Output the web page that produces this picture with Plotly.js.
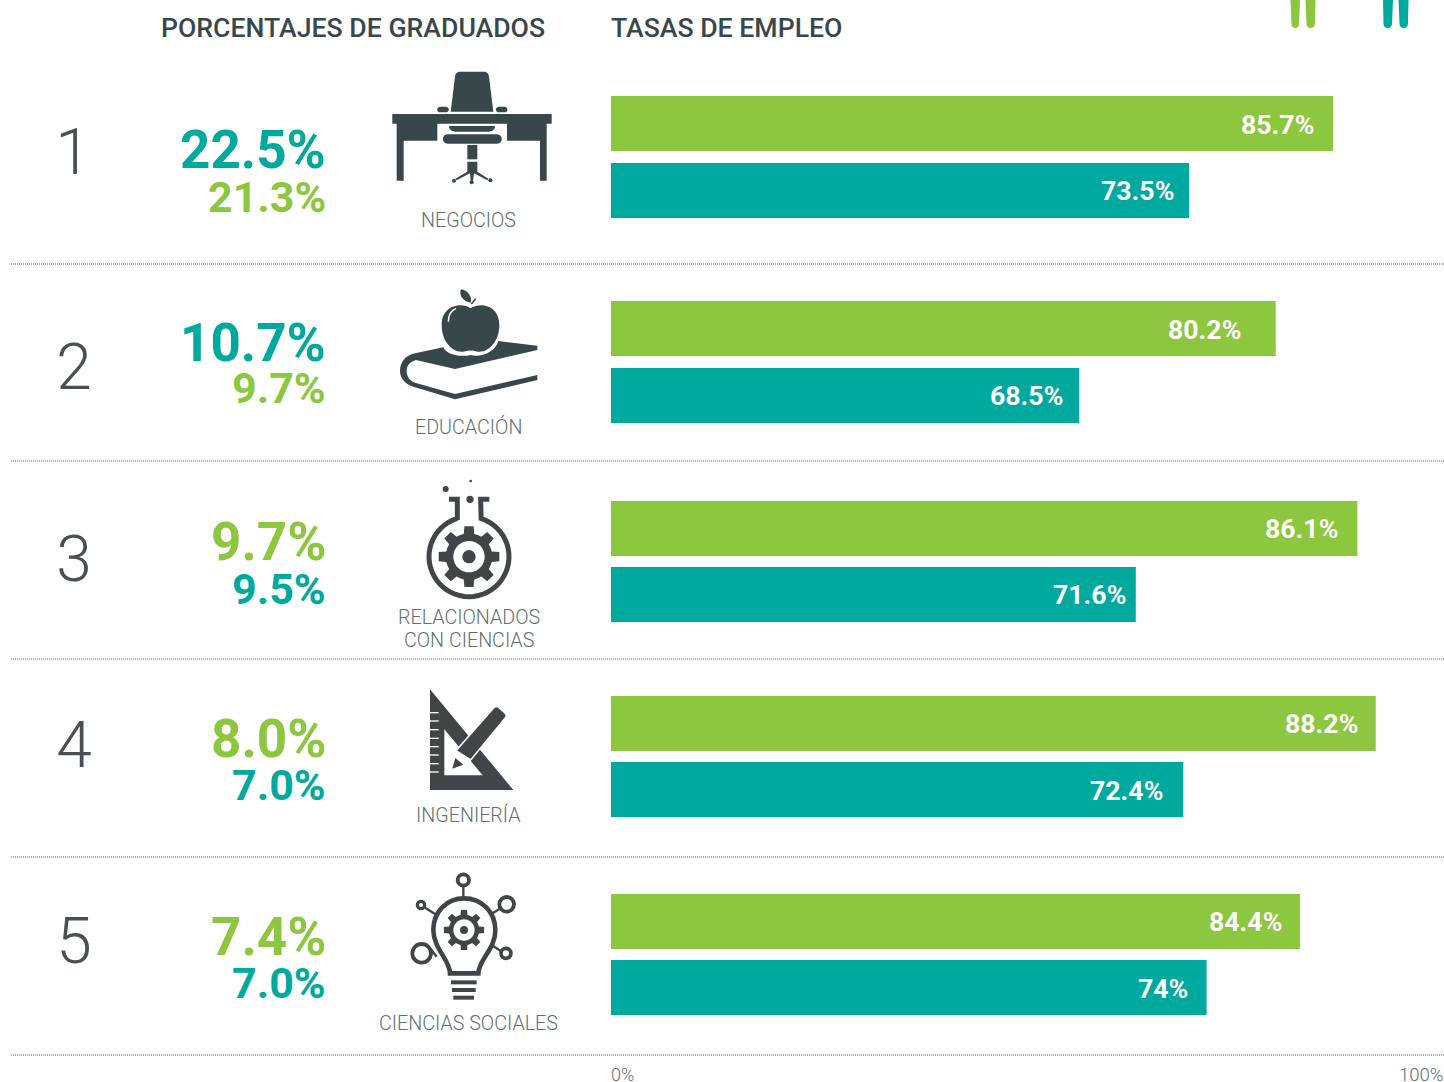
<!DOCTYPE html>
<html><head><meta charset="utf-8">
<script src="https://cdn.plot.ly/plotly-3.0.1.min.js"></script>
<style>html,body{margin:0;padding:0;background:#fff}#c{width:1444px;height:1082px}</style>
</head><body><div id="c"></div>
<script>
// ---- data ----
const ranks = ['1','2','3','4','5'];
const categories = ['NEGOCIOS','EDUCACIÓN','RELACIONADOS<br>CON CIENCIAS','INGENIERÍA','CIENCIAS SOCIALES'];
const gradTop = ['22.5%','10.7%','9.7%','8.0%','7.4%'];
const gradBottom = ['21.3%','9.7%','9.5%','7.0%','7.0%'];
const gradTopColor = ['teal','teal','green','green','green'];
const greenBars = [86.7,79.8,89.6,91.8,82.7];
const tealBars = [69.4,56.2,63.0,68.7,71.5];
const greenLabels = ['85.7%','80.2%','86.1%','88.2%','84.4%'];
const tealLabels = ['73.5%','68.5%','71.6%','72.4%','74%'];

// ---- layout helpers ----
const GREEN='#8dc63f', TEAL='#00a99d', DARK='#37474a', GREY='#424548', SOFT='#5f7074';
const colorOf={green:GREEN,teal:TEAL};
const FONT='Roboto';
const greenY=[123.5,328.5,528.5,723.5,921.5], tealY=[190.5,395.5,594.5,789.5,987.5];
const greenLabelY=[124.5,329.5,528.5,723.5,921.5], tealLabelY=[190.5,395.5,594.5,790.5,988.5];
const greenGap=[18,34,18,17,17], tealGap=[14,15,9,19,18];
const rankX=[73,74,74,74,74], rankY=[157.5,372.5,564.5,750.5,947];
const gradTopY=[149.5,342.5,541.5,738.5,936.5], gradBotY=[196.5,387.5,588.5,784.5,982.5];
const catY=[220,427,[617,640],815,1023];
const ruleY=[264,461,659,857,1055];

const shapes=[], annotations=[];
const ax={xref:'x2',yref:'y2'};
function z(ox,oy,d){ // path given in 3x-crop coordinates
  let i=0;
  return d.replace(/-?\d+(\.\d+)?/g,m=>{const v=parseFloat(m)/3+((i++%2)?oy:ox);return v.toFixed(2);});
}
function fill(d,c,extra){shapes.push(Object.assign({type:'path',path:d,fillcolor:c,line:{width:0},layer:'above'},ax,extra||{}));}
function stroke(d,c,w){shapes.push(Object.assign({type:'path',path:d,fillcolor:'rgba(0,0,0,0)',line:{color:c,width:w},layer:'above'},ax));}
function circle(cx,cy,r,c,lineC,lw){shapes.push(Object.assign({type:'circle',x0:cx-r,x1:cx+r,y0:cy-r,y1:cy+r,fillcolor:c,line:{color:lineC||c,width:lw||0},layer:'above'},ax));}
function zc(ox,oy,x,y,r,c,lc,lw){circle(ox+x/3,oy+y/3,r/3,c,lc,lw);}
function ringPts(cx,cy,r,n){let s='';for(let k=0;k<n;k++){const a=2*Math.PI*k/n;s+=(k?'L':'M')+(cx+r*Math.cos(a)).toFixed(2)+','+(cy+r*Math.sin(a)).toFixed(2)+' ';}return s+'Z ';}
function gear(cx,cy,ro,rr,hole,teeth,c){
  let s='';const st=2*Math.PI/teeth;
  for(let k=0;k<teeth;k++){
    const a=k*st-Math.PI/2;
    [[-.5,rr],[-.29,rr],[-.19,ro],[.19,ro],[.29,rr],[.5,rr]].forEach((p,j)=>{
      const t=a+p[0]*st;
      s+=((k===0&&j===0)?'M':'L')+(cx+p[1]*Math.cos(t)).toFixed(2)+','+(cy+p[1]*Math.sin(t)).toFixed(2)+' ';
    });
  }
  s+='Z '+ringPts(cx,cy,hole,40);
  fill(s,c,{fillrule:'evenodd'});
}

// desk
(function(){const o=[380,60],c=DARK,P=d=>z(o[0],o[1],d);
  fill(P('M 37 162 L 515 162 L 515 191 L 500 191 L 500 362 L 480 362 L 480 242 L 381 242 L 381 191 L 172 191 L 172 242 L 71 242 L 71 362 L 50 362 L 50 191 L 37 191 Z'),c);
  fill(P('M 212 155 L 225 50 C 226 40 232 35 240 35 L 312 35 C 320 35 326 40 327 50 L 340 155 Z'),c);
  fill(P('M 182 140 L 196 140 C 210 140 210 157 196 157 L 182 157 C 168 157 168 140 182 140 Z'),c);
  fill(P('M 358 140 L 372 140 C 386 140 386 157 372 157 L 358 157 C 344 157 344 140 358 140 Z'),c);
  fill(P('M 207 198 L 345 198 C 345 210 335 215 325 215 L 227 215 C 217 215 207 210 207 198 Z'),c);
  fill(P('M 203 223 L 351 223 C 370 223 370 251 351 251 L 203 251 C 184 251 184 223 203 223 Z'),c);
  fill(P('M 262 255 L 292 255 L 292 298 L 262 298 Z'),c);
  fill(P('M 262 305 L 292 305 L 292 335 L 325 356 L 322 361 L 282 340 L 279 362 L 272 362 L 270 340 L 230 361 L 226 356 L 262 335 Z'),c);
  zc(o[0],o[1],222,362,6,c); zc(o[0],o[1],331,361,6,c); zc(o[0],o[1],275,367,6,c);
})();
// book and apple
(function(){const o=[380,280],c=DARK,P=d=>z(o[0],o[1],d);
  fill(P('M 190 202 L 105 220 C 75 225 60 250 60 272 C 60 295 75 312 100 320 L 225 358 L 472 300 L 472 285 L 225 342 L 105 308 C 90 303 80 290 80 272 C 80 255 92 245 108 240 L 225 267 L 472 210 L 472 197 L 355 183 C 345 220 300 232 272 225 C 240 232 200 225 190 202 Z'),c);
  fill(P('M 272 85 C 300 65 358 75 358 135 C 358 185 325 218 295 215 C 285 214 280 210 272 212 C 264 210 258 214 248 215 C 218 218 185 185 185 135 C 185 75 245 65 272 85 Z'),c);
  fill(P('M 272 68 C 250 65 235 45 243 28 C 262 30 278 50 272 68 Z'),c);
  stroke(P('M 274 72 L 287 56'),c,1.5);
  stroke(P('M 205 125 C 205 105 212 92 228 85'),'#ffffff',1.5);
})();
// flask
(function(){const o=[380,470],c=GREY,ox=o[0],oy=o[1];
  const cx=267,cy=260,r=120;
  const a0=Math.atan2(150-cy,302-cx), a1=Math.atan2(150-cy,232-cx)+2*Math.PI;
  let d='M '+(ox+207/3)+','+(oy+88/3)+' L '+(ox+232/3)+','+(oy+88/3)+' L '+(ox+232/3)+','+(oy+150/3)+' ';
  for(let k=48;k>=0;k--){const a=a0+(a1-a0)*k/48;d+='L'+(ox+(cx+r*Math.cos(a))/3).toFixed(2)+','+(oy+(cy+r*Math.sin(a))/3).toFixed(2)+' ';}
  d+='L '+(ox+302/3)+','+(oy+88/3)+' L '+(ox+328/3)+','+(oy+88/3);
  stroke(d,c,5);
  gear(ox+cx/3,oy+cy/3,92/3,70/3,47/3,8,c);
  zc(ox,oy,cx,cy,20,c);
  zc(ox,oy,197,57,9,c); zc(ox,oy,272,33,4,c); zc(ox,oy,270,88,11,c);
})();
// set square and pencil
(function(){const o=[380,680],c=GREY,P=d=>z(o[0],o[1],d);
  fill(P('M 150 28 L 400 330 L 150 330 Z M 193 148 L 193 286 L 308 286 Z'),c,{fillrule:'evenodd'});
  [98,123,149,175,200,225,251,276].forEach(y=>fill(P('M 150 '+(y-2)+' L 176 '+(y-2)+' L 176 '+(y+2)+' L 150 '+(y+2)+' Z'),'#ffffff'));
  shapes.push(Object.assign({type:'path',path:P('M 340 85 C 345 78 352 78 357 83 L 373 97 C 380 103 380 110 375 115 L 272 240 L 228 212 Z'),fillcolor:c,line:{color:'#ffffff',width:1.5},layer:'above'},ax));
  fill(P('M 226 234 L 217 266 L 250 254 Z'),c);
})();
// bulb
(function(){const o=[370,865],c=GREY,ox=o[0],oy=o[1],P=d=>z(ox,oy,d);
  stroke(P('M 240 325 L 325 325 C 325 285 378 250 376 195 C 376 140 335 100 282 100 C 230 100 190 140 190 195 C 190 250 240 285 240 325 Z'),c,4.6);
  gear(ox+282/3,oy+195/3,61/3,46/3,32/3,8,c);
  zc(ox,oy,282,195,12,c);
  [['M 243 352 L 320 352',4],['M 246 375 L 317 375',4],['M 250 398 L 312 398',4]].forEach(l=>stroke(P(l[0]),c,l[1]));
  [['M 280 65 L 280 95'],['M 165 128 L 200 150'],['M 392 130 L 365 146'],['M 180 250 L 200 275'],['M 392 258 L 365 240']].forEach(l=>stroke(P(l[0]),c,2.4));
  zc(ox,oy,280,45,17,'#ffffff',c,3.8);
  zc(ox,oy,153,120,11,'#ffffff',c,3.2);
  zc(ox,oy,410,118,22,'#ffffff',c,3.8);
  zc(ox,oy,155,265,28,'#ffffff',c,3.8);
  zc(ox,oy,408,265,15,'#ffffff',c,3.6);
})();
// legs at the top edge
function leg(x0,x1,x2,x3,c){fill(`M ${x0} 0 L ${x3} 0 L ${x2} 24 C ${x2} 29.5 ${x1} 29.5 ${x1} 24 Z`,c);}
leg(1290.5,1291.5,1299,1300,GREEN); leg(1305.5,1306.5,1315,1315.5,GREEN);
leg(1383,1383.5,1392,1393,TEAL);    leg(1398.5,1399.5,1408,1408.5,TEAL);
// dotted rules
ruleY.forEach(y=>shapes.push(Object.assign({type:'line',x0:11,x1:1444,y0:y,y1:y,line:{color:'#5a5a5a',width:1,dash:'1px,1px'},layer:'above'},ax)));

// text
function note(x,y,text,size,color,weight,anchor){
  annotations.push(Object.assign({x,y,text,showarrow:false,xanchor:anchor,yanchor:'middle',borderpad:0,
    font:{family:FONT,size,color,weight}},ax));
}
function barNote(x,y,gap,text){
  annotations.push({x,y,xshift:-gap,text,showarrow:false,xanchor:'right',yanchor:'middle',borderpad:0,
    font:{family:FONT,size:26.7,color:'#ffffff',weight:700},xref:'x',yref:'y'});
}
note(160,28,'PORCENTAJES DE GRADUADOS',26.65,DARK,500,'left');
note(610,28,'TASAS DE EMPLEO',26.65,DARK,500,'left');
ranks.forEach((_,i)=>{
  note(326.5,gradTopY[i],gradTop[i],53,colorOf[gradTopColor[i]],700,'right');
  note(326.5,gradBotY[i],gradBottom[i],43,colorOf[gradTopColor[i]]===TEAL?GREEN:TEAL,700,'right');
  const lines=categories[i].split('<br>'), ys=[].concat(catY[i]);
  lines.forEach((t,k)=>note(468.5,ys[k],t,19.7,SOFT,300,'center'));
  barNote(greenBars[i],greenLabelY[i],greenGap[i],greenLabels[i]);
  barNote(tealBars[i],tealLabelY[i],tealGap[i],tealLabels[i]);
});
note(610,1074.5,'0%',18,SOFT,300,'left');
note(1444,1074.5,'100%',18.5,SOFT,300,'right');

const barBase={type:'bar',orientation:'h',width:55,xaxis:'x',yaxis:'y',hoverinfo:'skip'};
const traces=[
  Object.assign({},barBase,{name:'Green',x:greenBars,y:greenY,marker:{color:GREEN,line:{width:0}}}),
  Object.assign({},barBase,{name:'Teal',x:tealBars,y:tealY,marker:{color:TEAL,line:{width:0}}}),
  {type:'scatter',mode:'text',x:rankX,y:rankY,text:ranks,textposition:'middle center',xaxis:'x2',yaxis:'y2',hoverinfo:'skip',
   textfont:{family:FONT,size:64,color:'#4a4f52',weight:300},cliponaxis:false}
];
const layout={
  width:1444,height:1082,margin:{l:0,r:0,t:0,b:0,pad:0},paper_bgcolor:'#fff',plot_bgcolor:'rgba(0,0,0,0)',
  showlegend:false,barmode:'overlay',
  font:{family:FONT},
  xaxis:{domain:[611/1444,1],range:[0,100],visible:false,fixedrange:true},
  yaxis:{domain:[0,1],range:[1082,0],visible:false,fixedrange:true},
  xaxis2:{domain:[0,1],range:[0,1444],visible:false,anchor:'y2',fixedrange:true},
  yaxis2:{domain:[0,1],range:[1082,0],visible:false,anchor:'x2',fixedrange:true},
  shapes,annotations
};
Plotly.newPlot('c',traces,layout,{displayModeBar:false,staticPlot:true});
</script></body></html>
